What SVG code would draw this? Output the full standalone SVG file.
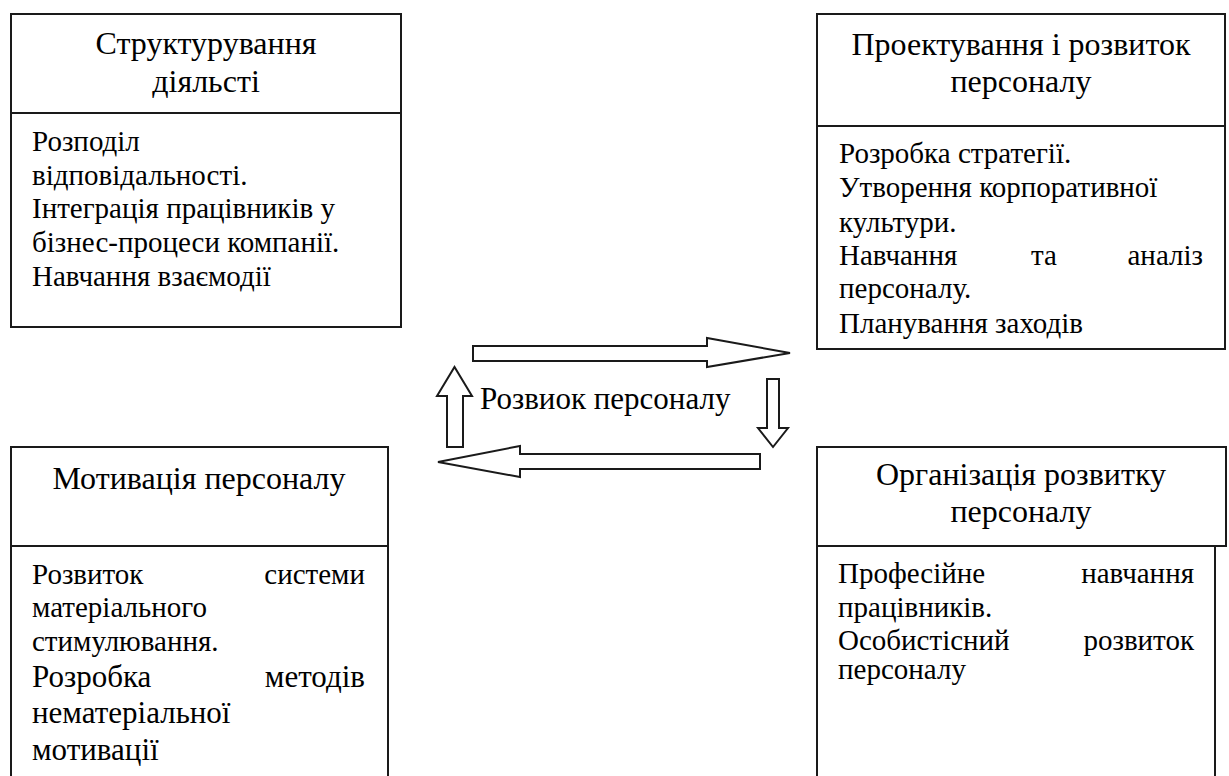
<svg xmlns="http://www.w3.org/2000/svg" width="1229" height="776" viewBox="0 0 1229 776" font-family="Liberation Serif">
<rect width="1229" height="776" fill="#fff"/>
<g id="node-structuring" font-family="Liberation Serif" font-size="29">
<rect x="11" y="14" width="390" height="313" fill="none" stroke="#1a1a1a" stroke-width="2"/>
<line x1="11" y1="113" x2="401" y2="113" stroke="#1a1a1a" stroke-width="2"/>
<text x="206" y="54" font-size="32" text-anchor="middle" font-family="Liberation Serif">Структурування</text>
<text x="206" y="92" font-size="32" text-anchor="middle" font-family="Liberation Serif">діяльсті</text>
<text x="32" y="151" font-family="Liberation Serif">Розподіл</text>
<text x="32" y="185" font-family="Liberation Serif">відповідальності.</text>
<text x="32" y="218" font-family="Liberation Serif">Інтеграція працівників у</text>
<text x="32" y="252" font-family="Liberation Serif">бізнес-процеси компанії.</text>
<text x="32" y="286" font-family="Liberation Serif">Навчання взаємодії</text>
</g>
<g id="node-design" font-family="Liberation Serif" font-size="29">
<rect x="817" y="14" width="408" height="335" fill="none" stroke="#1a1a1a" stroke-width="2"/>
<line x1="817" y1="126" x2="1225" y2="126" stroke="#1a1a1a" stroke-width="2"/>
<text x="1021" y="55" font-size="32" text-anchor="middle" font-family="Liberation Serif">Проектування і розвиток</text>
<text x="1021" y="92" font-size="32" text-anchor="middle" font-family="Liberation Serif">персоналу</text>
<text x="839" y="163" font-family="Liberation Serif">Розробка стратегії.</text>
<text x="839" y="197" font-family="Liberation Serif">Утворення корпоративної</text>
<text x="839" y="232" font-family="Liberation Serif">культури.</text>
<text x="839" y="265" font-family="Liberation Serif">Навчання</text>
<text x="1044" y="265" text-anchor="middle" font-family="Liberation Serif">та</text>
<text x="1203" y="265" text-anchor="end" font-family="Liberation Serif">аналіз</text>
<text x="839" y="298" font-family="Liberation Serif">персоналу.</text>
<text x="839" y="333" font-family="Liberation Serif">Планування заходів</text>
</g>
<g id="node-motivation" font-family="Liberation Serif" font-size="29">
<rect x="11" y="447" width="377" height="345" fill="none" stroke="#1a1a1a" stroke-width="2"/>
<line x1="11" y1="546" x2="388" y2="546" stroke="#1a1a1a" stroke-width="2"/>
<text x="199" y="489" font-size="32" text-anchor="middle" font-family="Liberation Serif">Мотивація персоналу</text>
<text x="32" y="584" font-family="Liberation Serif">Розвиток</text>
<text x="365" y="584" text-anchor="end" font-family="Liberation Serif">системи</text>
<text x="32" y="617" font-family="Liberation Serif">матеріального</text>
<text x="32" y="651" font-family="Liberation Serif">стимулювання.</text>
<text x="32" y="687" font-size="31" font-family="Liberation Serif">Розробка</text>
<text x="365" y="687" font-size="31" text-anchor="end" font-family="Liberation Serif">методів</text>
<text x="32" y="723" font-size="31" font-family="Liberation Serif">нематеріальної</text>
<text x="32" y="760" font-size="31" font-family="Liberation Serif">мотивації</text>
</g>
<g id="node-organization" font-family="Liberation Serif" font-size="29">
<rect x="817" y="447" width="409" height="99" fill="none" stroke="#1a1a1a" stroke-width="2"/>
<line x1="817" y1="546" x2="817" y2="790" stroke="#1a1a1a" stroke-width="2"/>
<line x1="1215" y1="546" x2="1215" y2="790" stroke="#1a1a1a" stroke-width="2"/>
<text x="1021" y="485" font-size="32" text-anchor="middle" font-family="Liberation Serif">Організація розвитку</text>
<text x="1021" y="522" font-size="32" text-anchor="middle" font-family="Liberation Serif">персоналу</text>
<text x="838" y="583" font-family="Liberation Serif">Професійне</text>
<text x="1194" y="583" text-anchor="end" font-family="Liberation Serif">навчання</text>
<text x="838" y="617" font-family="Liberation Serif">працівників.</text>
<text x="838" y="650" font-family="Liberation Serif">Особистісний</text>
<text x="1194" y="650" text-anchor="end" font-family="Liberation Serif">розвиток</text>
<text x="838" y="679" font-family="Liberation Serif">персоналу</text>
</g>
<g id="connectors" fill="#fff" stroke="#1a1a1a" stroke-width="2">
<polygon points="473,346 707,346 707,338 790,353 707,367 707,361 473,361"/>
<polygon points="767,379 779,379 779,428 788,428 773,447 758,428 767,428"/>
<polygon points="760,454 520,454 520,446 438,462 520,477 520,469 760,469"/>
<polygon points="447,447 447,396 437,396 454.5,367 472,396 463,396 463,447"/>
</g>
<g id="label-center">
<text x="480" y="409" font-size="31" font-family="Liberation Serif">Розвиок персоналу</text>
</g>
</svg>
